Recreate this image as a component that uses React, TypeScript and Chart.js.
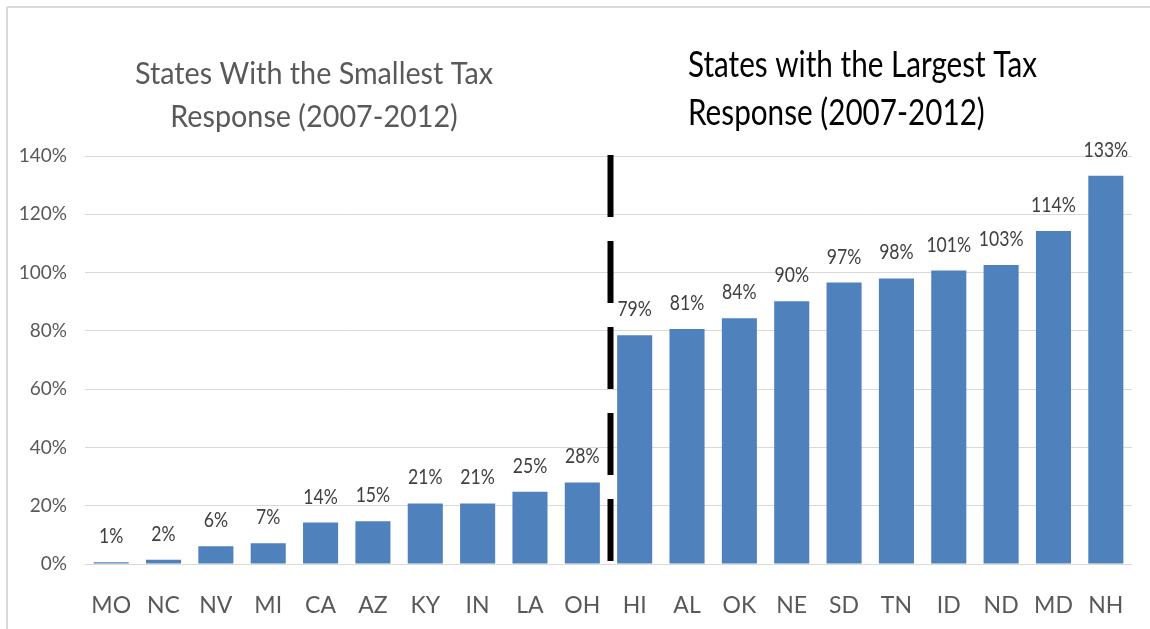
import React, { useEffect, useRef } from "react";
import { Chart, registerables } from "chart.js";

Chart.register(...registerables);

const states = ["MO", "NC", "NV", "MI", "CA", "AZ", "KY", "IN", "LA", "OH", "HI", "AL", "OK", "NE", "SD", "TN", "ID", "ND", "MD", "NH"];
const responsePct = [0.6, 1.5, 6.1, 7.1, 14.2, 14.7, 20.8, 20.8, 24.8, 28.0, 78.5, 80.6, 84.3, 90.2, 96.6, 98.0, 100.7, 102.6, 114.3, 133.2];
const leftTitle = ["States With the Smallest Tax", "Response (2007-2012)"];
const rightTitle = ["States with the Largest Tax", "Response (2007-2012)"];
const dividerAfterIndex = 9;

const FONT = "Lato, 'Open Sans', sans-serif";

function drawScaled(ctx: CanvasRenderingContext2D, text: string, x: number, y: number, align: CanvasTextAlign, sx: number) {
  ctx.save();
  ctx.translate(x, y);
  ctx.scale(sx, 1);
  ctx.textAlign = align;
  ctx.fillText(text, 0, 0);
  ctx.restore();
}

const overlayPlugin = {
  id: "overlay",
  afterDatasetsDraw(chart: any) {
    const ctx: CanvasRenderingContext2D = chart.ctx;
    const area = chart.chartArea;
    const xs = chart.scales.x;
    // frame lines (top / left)
    ctx.save();
    ctx.strokeStyle = "#d9d9d9";
    ctx.lineWidth = 2;
    ctx.beginPath();
    ctx.moveTo(7, 7);
    ctx.lineTo(chart.width, 7);
    ctx.moveTo(7, 7);
    ctx.lineTo(7, chart.height);
    ctx.stroke();
    ctx.restore();

    // data labels
    const meta = chart.getDatasetMeta(0);
    ctx.save();
    ctx.fillStyle = "#404040";
    ctx.font = `22px ${FONT}`;
    ctx.textBaseline = "middle";
    meta.data.forEach((bar: any, i: number) => {
      drawScaled(ctx, Math.round(responsePct[i]) + "%", bar.x, bar.y - 26, "center", 0.8);
    });
    ctx.restore();

    // dashed divider
    const dx = (xs.getPixelForValue(dividerAfterIndex) + xs.getPixelForValue(dividerAfterIndex + 1)) / 2 + 2;
    ctx.save();
    ctx.strokeStyle = "#000";
    ctx.lineWidth = 6;
    ctx.setLineDash([62, 24]);
    ctx.beginPath();
    ctx.moveTo(dx, area.top - 1);
    ctx.lineTo(dx, area.bottom + 2);
    ctx.stroke();
    ctx.restore();

    // titles
    ctx.save();
    ctx.textBaseline = "alphabetic";
    ctx.font = `30px ${FONT}`;
    ctx.fillStyle = "#595959";
    let sx = 358 / ctx.measureText(leftTitle[0]).width;
    drawScaled(ctx, leftTitle[0], 314, 84, "center", sx);
    drawScaled(ctx, leftTitle[1], 314, 127, "center", sx);
    ctx.font = `36px ${FONT}`;
    ctx.fillStyle = "#000";
    sx = 349 / ctx.measureText(rightTitle[0]).width;
    drawScaled(ctx, rightTitle[0], 688, 77, "left", sx);
    drawScaled(ctx, rightTitle[1], 688, 125, "left", sx);
    ctx.restore();
  },
};

export default function App() {
  const ref = useRef<HTMLCanvasElement>(null);
  useEffect(() => {
    if (!ref.current) return;
    const chart = new Chart(ref.current, {
      type: "bar",
      data: {
        labels: states,
        datasets: [
          {
            data: responsePct,
            backgroundColor: "#4F81BD",
            borderWidth: 0,
            barPercentage: 0.67,
            categoryPercentage: 1,
          },
        ],
      },
      options: {
        responsive: false,
        animation: false,
        devicePixelRatio: 1,
        layout: { padding: { top: 156, right: 18, bottom: 0, left: 0 } },
        plugins: { legend: { display: false }, tooltip: { enabled: false }, title: { display: false } },
        scales: {
          x: {
            grid: { display: false },
            border: { display: false },
            ticks: { color: "#595959", font: { family: FONT, size: 23 }, padding: 20, maxRotation: 0, autoSkip: false },
            afterFit: (s: any) => {
              s.height = 65;
            },
          },
          y: {
            min: 0,
            max: 140,
            border: { display: false },
            grid: { color: "#d9d9d9", lineWidth: 1, drawTicks: false },
            ticks: {
              stepSize: 20,
              color: "#595959",
              font: { family: FONT, size: 19 },
              padding: 18,
              callback: (v: any) => v + "%",
            },
            afterFit: (s: any) => {
              s.width = 85;
            },
          },
        },
      },
      plugins: [overlayPlugin],
    });
    return () => chart.destroy();
  }, []);
  return (
    <div style={{ position: "absolute", left: 0, top: 0, width: 1150, height: 629, background: "#fff" }}>
      <canvas ref={ref} width={1150} height={629} />
    </div>
  );
}
